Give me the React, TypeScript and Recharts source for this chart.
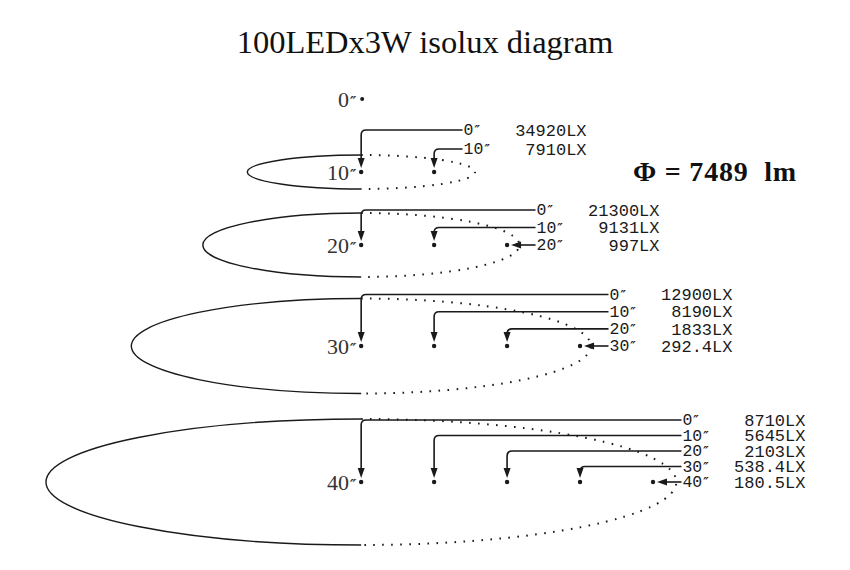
import { ScatterChart, Scatter, XAxis, YAxis, ReferenceArea, ReferenceLine } from "recharts";

// measured planes (inches from the fixture) and lateral sample offsets
const distances = [10, 20, 30, 40];
const offsets = [0, 10, 20, 30, 40];
// beam spot radius at each plane (inches)
const spotRadius = [15.6, 21.7, 31.5, 43.2];
// illuminance at each sample point, per plane
const luxValues = [
  ["34920", "7910"],
  ["21300", "9131", "997"],
  ["12900", "8190", "1833", "292.4"],
  ["8710", "5645", "2103", "538.4", "180.5"],
];
const flux = "7489";

// diagram layout (vertical placement in px-like units)
const SOURCE_Y = 99;
const LEVEL_Y = [172, 245, 346, 482];
const LEVEL_RY = [17, 32, 47.5, 63];
const ROW_TOP = [130, 210, 294.5, 420];
const ROW_STEP = [19, 17.5, 17.2, 15.5];
const LABEL_GAP = 3.9;

const INK = "#1a1a1a";
const MONO = "'Liberation Mono', 'DejaVu Sans Mono', monospace";
const SERIF = "'Liberation Serif', 'DejaVu Serif', serif";

const points = distances.flatMap((d, i) =>
  offsets.filter((o) => o <= d).map((o) => ({ x: o, y: LEVEL_Y[i] }))
);
const planeLabels = [
  { x: 0, y: SOURCE_Y, label: "0", dot: true },
  ...distances.map((d, i) => ({ x: 0, y: LEVEL_Y[i], label: `${d}`, dot: false })),
];
const callouts = distances.flatMap((d, i) =>
  offsets
    .filter((o) => o <= d)
    .map((o, j) => ({
      key: `${d}-${o}`,
      x1: d + LABEL_GAP,
      y1: ROW_TOP[i] + j * ROW_STEP[i],
      x2: o,
      y2: LEVEL_Y[i],
      tag: `${o}`,
      lux: `${luxValues[i][j]}LX`,
    }))
);

const Inch = ({ size }: { size: number }) => (
  <tspan fontFamily="'DejaVu Serif', serif" fontStyle="italic" fontWeight="bold" fontSize={size} dx={1}>
    ″
  </tspan>
);

function Ellipse(props: any) {
  const { x, y, width, height } = props;
  const cx = x + width / 2;
  const rx = width / 2;
  const ry = height / 2;
  return (
    <g>
      <path
        d={`M${cx},${y} A${rx},${ry} 0 0 0 ${cx},${y + height}`}
        fill="none"
        stroke={INK}
        strokeWidth={1.4}
      />
      <path
        d={`M${cx},${y} A${rx},${ry} 0 0 1 ${cx},${y + height}`}
        fill="none"
        stroke={INK}
        strokeWidth={2}
        strokeDasharray="1.6 7.4"
      />
    </g>
  );
}

function Callout(props: any) {
  const { x1, y1, x2, y2, tag, lux } = props;
  const horiz = Math.abs(y2 - y1) < 1.5;
  const r = 5;
  const ty = horiz ? y2 : y1;
  return (
    <g>
      {horiz ? (
        <>
          <line x1={x1} y1={y2} x2={x2 + 12} y2={y2} stroke={INK} strokeWidth={1.6} />
          <path d={`M${x2 + 4},${y2} L${x2 + 14},${y2 - 3.5} L${x2 + 14},${y2 + 3.5} Z`} fill={INK} />
        </>
      ) : (
        <>
          <path
            d={`M${x1},${y1} H${x2 + r} Q${x2},${y1} ${x2},${y1 + r} V${y2 - 12}`}
            fill="none"
            stroke={INK}
            strokeWidth={1.6}
          />
          <path d={`M${x2},${y2 - 4} L${x2 - 3.5},${y2 - 14} L${x2 + 3.5},${y2 - 14} Z`} fill={INK} />
        </>
      )}
      <text x={x1 + 1} y={ty} dy="0.33em" fontFamily={MONO} fontSize={16.5} fill={INK}>
        {tag}
        <Inch size={12} />
      </text>
      <text x={x1 + 124} y={ty} dy="0.33em" textAnchor="end" fontFamily={MONO} fontSize={17} fill={INK}>
        {lux}
      </text>
    </g>
  );
}

function PlaneLabel(props: any) {
  const { cx, cy, payload } = props;
  return (
    <g>
      <text x={cx - 5} y={cy} dy="0.35em" textAnchor="end" fontFamily={SERIF} fontSize={22} fill="#333">
        {payload.label}
        <Inch size={14} />
      </text>
      {payload.dot && <circle cx={cx + 1} cy={cy} r={2} fill={INK} />}
    </g>
  );
}

export default function App() {
  return (
    <div style={{ position: "absolute", left: 0, top: 0, width: 850, height: 570, background: "#fff" }}>
      <div
        style={{
          position: "absolute",
          top: 23,
          width: 850,
          textAlign: "center",
          fontFamily: SERIF,
          fontSize: 32.5,
          lineHeight: "38px",
          color: "#111",
        }}
      >
        100LEDx3W isolux diagram
      </div>
      <div
        style={{
          position: "absolute",
          left: 633,
          top: 156,
          fontFamily: SERIF,
          fontWeight: "bold",
          fontSize: 28,
          letterSpacing: 0.8,
          lineHeight: "32px",
          whiteSpace: "pre",
          color: "#111",
        }}
      >
        {`Φ = ${flux}  lm`}
      </div>
      <ScatterChart width={850} height={570} margin={{ top: 0, right: 0, bottom: 0, left: 0 }}>
        <XAxis type="number" dataKey="x" domain={[-49.5, 67]} hide allowDataOverflow />
        <YAxis type="number" dataKey="y" domain={[0, 570]} reversed hide allowDataOverflow />
        {distances.map((d, i) => (
          <ReferenceArea
            key={d}
            x1={-spotRadius[i]}
            x2={spotRadius[i]}
            y1={LEVEL_Y[i] - LEVEL_RY[i]}
            y2={LEVEL_Y[i] + LEVEL_RY[i]}
            ifOverflow="visible"
            shape={(p: any) => <Ellipse {...p} />}
          />
        ))}
        {callouts.map((c) => (
          <ReferenceLine
            key={c.key}
            segment={[
              { x: c.x1, y: c.y1 },
              { x: c.x2, y: c.y2 },
            ]}
            ifOverflow="visible"
            shape={(p: any) => <Callout {...p} tag={c.tag} lux={c.lux} />}
          />
        ))}
        <Scatter
          data={points}
          isAnimationActive={false}
          shape={(p: any) => <circle cx={p.cx} cy={p.cy} r={2.2} fill={INK} />}
        />
        <Scatter data={planeLabels} isAnimationActive={false} shape={(p: any) => <PlaneLabel {...p} />} />
      </ScatterChart>
    </div>
  );
}
